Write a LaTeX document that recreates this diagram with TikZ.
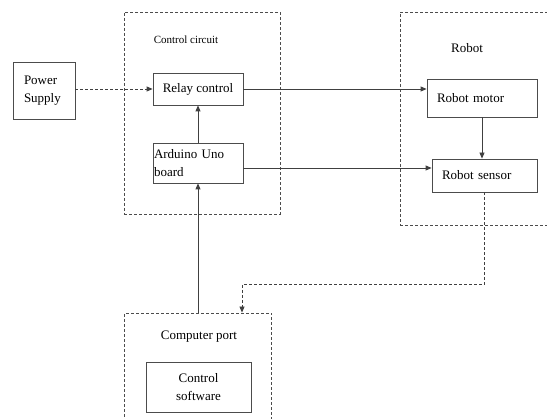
\documentclass[tikz,border=0pt]{standalone}
\usepackage{fontspec}
\setmainfont{Liberation Serif}
\usetikzlibrary{arrows.meta}
\tikzset{
  block/.style={draw=black!70, line width=0.8pt, rectangle, inner sep=0pt, font=\fontsize{13}{18}\selectfont},
  frame/.style={draw=black!70, line width=0.8pt, dash pattern=on 3pt off 2pt, rectangle, inner sep=0pt},
  caption/.style={font=\fontsize{13}{15}\selectfont},
  wire/.style={black!75, line width=0.8pt},
  dashwire/.style={wire, dash pattern=on 3pt off 2pt},
}
\begin{document}
\begin{tikzpicture}[x=1pt,y=-1pt,>={Triangle[length=6pt,width=5pt]}]
\useasboundingbox (0,0) rectangle (547,419);
\clip (0,0) rectangle (547,419);
% dashed groups
\node[frame, minimum width=156pt, minimum height=202pt] (ctrl) at (202,113) {};
\node[frame, minimum width=160pt, minimum height=213pt] (robot) at (480,118.5) {};
\node[frame, minimum width=147pt, minimum height=130pt] (port) at (198,378) {};
\node[caption, font=\fontsize{11}{13}\selectfont] (ctrllbl) at (186,40) {Control circuit};
\node[caption] (robotlbl) at (467,48) {Robot};
\node[caption] (portlbl) at (199,337) {Computer port};
% blocks
\node[block, minimum width=62pt, minimum height=57pt, text width=40pt, align=left] (power) at (44,90.5) {Power\\Supply};
\node[block, minimum width=90pt, minimum height=32pt] (relay) at (198,89) {Relay control};
\node[block, minimum width=90pt, minimum height=40pt, text width=88pt, align=left] (arduino) at (198,163) {Arduino Uno\\board};
\node[block, minimum width=110pt, minimum height=38pt, text width=90pt, align=left] (motor) at (482,98) {Robot motor};
\node[block, minimum width=105pt, minimum height=33pt, text width=85pt, align=left] (sensor) at (484.5,175.5) {Robot sensor};
\node[block, minimum width=105pt, minimum height=50pt, align=center] (soft) at (198.5,387) {Control\\software};
% connectors
\draw[dashwire, ->] (power.east |- relay) -- (relay.west);
\draw[wire, ->] (relay.east) -- (relay.east -| motor.west);
\draw[wire, ->] ([yshift=-5pt]arduino.east) -- ([yshift=-5pt]arduino.east -| sensor.west);
\draw[wire, ->] (arduino.north) -- (relay.south);
\draw[wire, ->] (motor.south) -- (motor.south |- sensor.north);
\draw[wire, ->] (port.north) -- (arduino.south);
\draw[dashwire, ->] (sensor.south) -- ++(0,92) -| ([xshift=44pt]port.north);
\end{tikzpicture}
\end{document}
